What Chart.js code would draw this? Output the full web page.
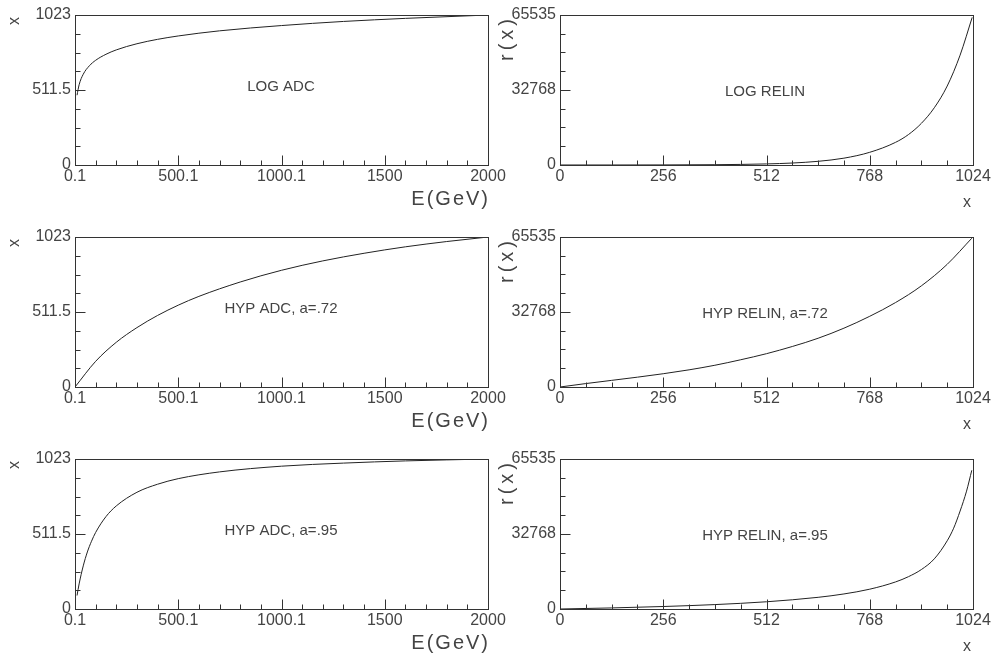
<!DOCTYPE html>
<html>
<head>
<meta charset="utf-8">
<script src="https://cdn.jsdelivr.net/npm/chart.js@4.4.0/dist/chart.umd.min.js"></script>
<style>
    html, body { margin: 0; padding: 0; background: #fff; }
    #wrap { position: relative; width: 993px; height: 659px; overflow: hidden; }
    #wrap canvas { position: absolute; }
</style>
</head>
<body>
<div id="wrap"></div>
<script>
// ---- axes ----
const energyMajor = [0.1, 500.1, 1000.1, 1500, 2000];
const energyLabels = ['0.1', '500.1', '1000.1', '1500', '2000'];
const energyMinor = [100.1, 200.1, 300.1, 400.1, 600.1, 700.1, 800.1, 900.1, 1100.1, 1200.1, 1300.1, 1400.1, 1600, 1700, 1800, 1900];

const adcMajor = [0, 511.5, 1023];
const adcLabels = ['0', '511.5', '1023'];
const adcMinor = [127.875, 255.75, 383.625, 639.375, 767.25, 895.125];

const chanMajor = [0, 256, 512, 768, 1024];
const chanLabels = ['0', '256', '512', '768', '1024'];
const chanMinor = [64, 128, 192, 320, 384, 448, 576, 640, 704, 832, 896, 960];

const relinMajor = [0, 32768, 65535];
const relinLabels = ['0', '32768', '65535'];
const relinMinor = [8192, 16384, 24576, 40960, 49152, 57344];

// ---- curves ----
// LOG ADC : x(E)
const logAdcE = [10, 20, 40, 70, 100, 150, 200, 300, 400, 500, 700, 1000, 1300, 1600, 2000];
const logAdcX = [476, 547, 619, 677, 714, 755, 785, 827, 857, 880, 915, 951, 979, 1000, 1023];
// LOG RELIN : r(x)
const logRelinX = [0, 128, 256, 384, 512, 576, 640, 704, 768, 832, 864, 896, 928, 960, 992, 1022];
const logRelinR = [3, 11, 39, 135, 466, 866, 1610, 2990, 5550, 9900, 13300, 18200, 25000, 34500, 48000, 64500];
// HYP ADC a=.72
const hyp72AdcE = [0.1, 100, 200, 300, 400, 500, 600, 800, 1000, 1200, 1400, 1600, 1800, 2000];
const hyp72AdcX = [0, 175, 305, 405, 488, 558, 618, 716, 796, 860, 912, 956, 992, 1023];
// HYP RELIN a=.72
const hyp72RelinX = [0, 64, 128, 192, 256, 320, 384, 448, 512, 576, 640, 704, 768, 832, 896, 960, 1021];
const hyp72RelinR = [0, 1500, 2900, 4300, 5800, 7500, 9500, 11900, 14560, 17700, 21300, 25700, 30900, 36900, 44200, 53600, 65000];
// HYP ADC a=.95
const hyp95AdcE = [10, 20, 40, 60, 80, 100, 150, 200, 300, 400, 500, 700, 1000, 1300, 1600, 2000];
const hyp95AdcX = [92, 171, 294, 389, 462, 522, 630, 703, 796, 851, 889, 935, 974, 995, 1010, 1023];
// HYP RELIN a=.95
const hyp95RelinX = [0, 128, 256, 384, 512, 640, 704, 768, 832, 864, 896, 928, 960, 976, 992, 1008, 1021];
const hyp95RelinR = [0, 470, 1086, 1931, 3157, 5102, 6575, 8658, 11830, 14130, 17240, 21900, 29800, 35300, 42800, 51500, 60600];

const panelNames = ['LOG ADC', 'LOG RELIN', 'HYP ADC, a=.72', 'HYP RELIN, a=.72', 'HYP ADC, a=.95', 'HYP RELIN, a=.95'];

const FONT = "'Liberation Sans', Arial, sans-serif";
const INK = '#333';
const TEXT = '#444';

// ADC panels sit on the left, RELIN panels on the right
const adcStyle = {
    left: 0, width: 510, padRight: 22, yWidth: 75,
    xMin: 0.1, xMax: 2000, xMajor: energyMajor, xLabels: energyLabels, xMinor: energyMinor,
    yMin: 0, yMax: 1023, yMajor: adcMajor, yLabels: adcLabels, yMinor: adcMinor,
    nameDx: 206, nameDy: 72
};
const relinStyle = {
    left: 495, width: 498, padRight: 20, yWidth: 65,
    xMin: 0, xMax: 1024, xMajor: chanMajor, xLabels: chanLabels, xMinor: chanMinor,
    yMin: 0, yMax: 65535, yMajor: relinMajor, yLabels: relinLabels, yMinor: relinMinor,
    nameDx: 205, nameDy: 77
};

const panels = [
    { ...adcStyle, row: 0, xs: logAdcE, ys: logAdcX, name: panelNames[0] },
    { ...relinStyle, row: 0, xs: logRelinX, ys: logRelinR, name: panelNames[1] },
    { ...adcStyle, row: 1, xs: hyp72AdcE, ys: hyp72AdcX, name: panelNames[2] },
    { ...relinStyle, row: 1, xs: hyp72RelinX, ys: hyp72RelinR, name: panelNames[3] },
    { ...adcStyle, row: 2, xs: hyp95AdcE, ys: hyp95AdcX, name: panelNames[4] },
    { ...relinStyle, row: 2, xs: hyp95RelinX, ys: hyp95RelinR, name: panelNames[5] }
];

// frame, inward ticks, titles and panel name
const framePlugin = {
    id: 'frame',
    afterDraw(chart, args, opts) {
        const p = opts.panel;
        const { ctx, chartArea: a, scales } = chart;
        const L = Math.round(a.left) + 0.5, R = Math.round(a.right) + 0.5;
        const T = Math.round(a.top) + 0.5, B = Math.round(a.bottom) + 0.5;
        ctx.save();
        ctx.strokeStyle = INK;
        ctx.lineWidth = 1;
        ctx.strokeRect(L, T, R - L, B - T);

        ctx.beginPath();
        const tick = (v, len, axis) => {
            if (axis === 'x') {
                const px = Math.round(scales.x.getPixelForValue(v)) + 0.5;
                ctx.moveTo(px, B); ctx.lineTo(px, B - len);
            } else {
                const py = Math.round(scales.y.getPixelForValue(v)) + 0.5;
                ctx.moveTo(L, py); ctx.lineTo(L + len, py);
            }
        };
        p.xMajor.forEach(v => tick(v, 10, 'x'));
        p.xMinor.forEach(v => tick(v, 5, 'x'));
        p.yMajor.forEach(v => tick(v, 10, 'y'));
        p.yMinor.forEach(v => tick(v, 5, 'y'));
        ctx.stroke();

        ctx.fillStyle = TEXT;
        ctx.textBaseline = 'middle';
        ctx.textAlign = 'center';
        ctx.font = `15px ${FONT}`;
        ctx.fillText(p.name, a.left + p.nameDx, a.top + p.nameDy);

        if (p.xMax === 2000) {
            ctx.font = `20px ${FONT}`;
            ctx.letterSpacing = '2px';
            ctx.textAlign = 'right';
            ctx.fillText('E(GeV)', a.right + 2, a.bottom + 34);
            ctx.letterSpacing = '0px';
            ctx.save();
            ctx.translate(a.left - 60, a.top + 6);
            ctx.rotate(-Math.PI / 2);
            ctx.font = `16px ${FONT}`;
            ctx.textAlign = 'center';
            ctx.fillText('x', 0, 0);
            ctx.restore();
        } else {
            ctx.font = `16px ${FONT}`;
            ctx.fillText('x', a.right - 6, a.bottom + 38);
            ctx.save();
            ctx.translate(a.left - 53, a.top);
            ctx.rotate(-Math.PI / 2);
            ctx.font = `20px ${FONT}`;
            ctx.letterSpacing = '4px';
            ctx.textAlign = 'right';
            ctx.fillText('r(x)', 0, 0);
            ctx.restore();
        }
        ctx.restore();
    }
};

const wrap = document.getElementById('wrap');

panels.forEach(p => {
    const c = document.createElement('canvas');
    c.width = p.width;
    c.height = 222;
    c.style.left = p.left + 'px';
    c.style.top = (p.row * 222) + 'px';
    wrap.appendChild(c);

    const tickFont = { family: FONT, size: 16 };

    new Chart(c, {
        type: 'line',
        data: {
            datasets: [{
                data: p.xs.map((x, i) => ({ x, y: p.ys[i] })),
                borderColor: '#222',
                borderWidth: 1,
                pointRadius: 0,
                fill: false,
                cubicInterpolationMode: 'monotone'
            }]
        },
        options: {
            responsive: false,
            animation: false,
            devicePixelRatio: 1,
            layout: { padding: { top: 15, right: p.padRight, left: 0, bottom: 0 } },
            plugins: { legend: { display: false }, tooltip: { enabled: false }, frame: { panel: p } },
            scales: {
                x: {
                    type: 'linear', min: p.xMin, max: p.xMax,
                    grid: { display: false, drawTicks: false },
                    border: { display: false },
                    afterBuildTicks: s => { s.ticks = p.xMajor.map(v => ({ value: v })); },
                    afterFit: s => { s.height = 57; },
                    ticks: {
                        autoSkip: false, maxRotation: 0, padding: 2, color: TEXT, font: tickFont,
                        callback: (v, i) => p.xLabels[i]
                    }
                },
                y: {
                    type: 'linear', min: p.yMin, max: p.yMax,
                    grid: { display: false, drawTicks: false },
                    border: { display: false },
                    afterBuildTicks: s => { s.ticks = p.yMajor.map(v => ({ value: v })); },
                    afterFit: s => { s.width = p.yWidth; },
                    ticks: {
                        autoSkip: false, padding: 4, color: TEXT, font: tickFont,
                        callback: (v, i) => p.yLabels[i]
                    }
                }
            }
        },
        plugins: [framePlugin]
    });
});
</script>
</body>
</html>
